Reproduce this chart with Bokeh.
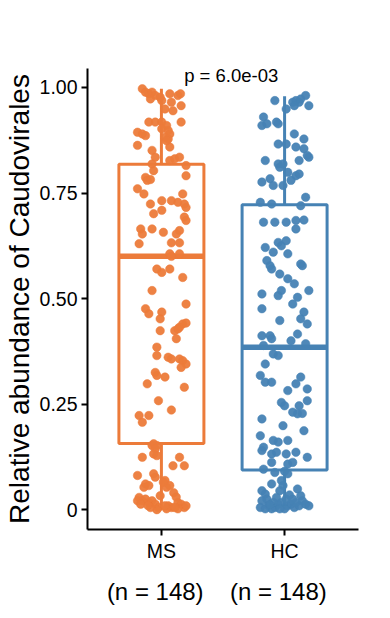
from bokeh.plotting import figure
from bokeh.models import Range1d, FixedTicker, Label, ColumnDataSource, LinearAxis
from bokeh.embed import file_html
from bokeh.resources import INLINE

FONT = "Liberation Sans"
groups = ["MS", "HC"]
n_labels = ["(n = 148)", "(n = 148)"]
colors = ["#EC7B3A", "#4682B4"]
p_label = "p = 6.0e-03"

# box statistics
q1 = [0.157, 0.094]
med = [0.600, 0.385]
q3 = [0.818, 0.722]
w_lo = [0.0, 0.0]
w_hi = [0.997, 0.979]

# jittered points (horizontal jitter offset, value)
ms_dx = [-0.155, -0.129, -0.102, -0.076, -0.05, -0.01, 0.068, 0.134, 0.155, -0.089,
         0.003, 0.081, 0.16, 0.029, 0.094, -0.102, -0.05, 0.003, 0.042, 0.16,
         0.003, 0.055, 0.068, -0.194, -0.155, -0.129, 0.029, 0.055, -0.194, -0.076,
         0.068, 0.042, -0.05, 0.068, 0.108, 0.147, -0.076, -0.063, 0.2, -0.129,
         -0.115, -0.089, 0.2, -0.194, -0.142, 0.173, -0.089, 0.003, 0.081, 0.134,
         0.186, 0.2, -0.063, 0.003, 0.186, 0.2, -0.168, -0.155, -0.076, 0.016,
         0.147, 0.121, -0.181, 0.081, 0.147, 0.068, 0.081, 0.147, -0.037, 0.003,
         0.068, 0.173, -0.076, -0.129, -0.102, 0.003, 0.2, -0.01, 0.173, 0.147,
         0.2, -0.01, 0.108, 0.134, 0.121, -0.037, -0.037, 0.055, 0.081, 0.147,
         0.173, 0.2, 0.16, -0.05, -0.037, 0.029, -0.115, 0.186, -0.024, 0.081,
         -0.181, -0.155, -0.102, -0.063, -0.037, -0.076, -0.05, -0.063, -0.037, -0.155,
         0.147, 0.094, 0.186, -0.194, -0.063, -0.05, -0.129, -0.102, -0.142, 0.029,
         0.042, 0.068, -0.181, -0.155, -0.129, -0.102, -0.076, -0.05, -0.024, 0.055,
         0.081, 0.134, 0.16, 0.186, 0.2, 0.042, 0.134, -0.194, -0.037, 0.029,
         0.108, -0.168, -0.089, 0.016, -0.01, 0.1, -0.11, 0.12]
ms_y = [0.997, 0.989, 0.985, 0.989, 0.981, 0.977, 0.985, 0.981, 0.985, 0.973,
        0.969, 0.965, 0.957, 0.949, 0.945, 0.918, 0.918, 0.918, 0.910, 0.918,
        0.902, 0.898, 0.890, 0.894, 0.890, 0.886, 0.882, 0.878, 0.863, 0.851,
        0.859, 0.874, 0.835, 0.827, 0.831, 0.835, 0.819, 0.803, 0.815, 0.787,
        0.780, 0.782, 0.791, 0.760, 0.748, 0.748, 0.724, 0.732, 0.732, 0.728,
        0.724, 0.716, 0.701, 0.709, 0.693, 0.685, 0.665, 0.653, 0.665, 0.657,
        0.661, 0.653, 0.630, 0.632, 0.632, 0.606, 0.600, 0.606, 0.570, 0.562,
        0.570, 0.550, 0.519, 0.476, 0.464, 0.468, 0.487, 0.452, 0.440, 0.432,
        0.442, 0.424, 0.424, 0.428, 0.405, 0.385, 0.365, 0.361, 0.357, 0.357,
        0.353, 0.345, 0.337, 0.325, 0.318, 0.314, 0.298, 0.290, 0.258, 0.236,
        0.223, 0.207, 0.223, 0.156, 0.152, 0.152, 0.144, 0.132, 0.128, 0.124,
        0.124, 0.104, 0.104, 0.081, 0.085, 0.077, 0.061, 0.057, 0.053, 0.069,
        0.053, 0.057, 0.029, 0.021, 0.025, 0.017, 0.021, 0.013, 0.005, 0.009,
        0.005, 0.017, 0.013, 0.005, 0.009, 0.002, 0.002, 0.021, 0.000, 0.009,
        0.005, 0.013, 0.005, 0.065, 0.033, 0.040, 0.010, 0.030]

hc_dx = [-0.079, 0.013, 0.066, 0.092, 0.118, 0.171, 0.197, 0.079, 0.131, -0.171,
         -0.184, -0.144, -0.066, -0.052, 0.079, 0.157, -0.052, 0.013, 0.092, 0.157,
         0.184, 0.197, -0.157, -0.052, -0.039, -0.013, 0.118, 0.026, 0.092, 0.118,
         -0.184, -0.118, -0.092, -0.013, 0.052, 0.171, -0.197, -0.105, 0.131, -0.171,
         -0.079, 0.013, 0.092, 0.157, 0.092, -0.157, -0.052, -0.026, 0.013, -0.092,
         0.026, -0.144, -0.118, -0.105, 0.131, 0.144, -0.039, 0.026, 0.079, 0.197,
         -0.184, -0.052, -0.026, 0.105, 0.066, -0.184, 0.157, 0.131, 0.184, -0.039,
         -0.184, -0.118, -0.105, 0.105, 0.052, 0.171, -0.171, -0.092, -0.052, -0.157,
         -0.197, -0.157, -0.105, 0.131, 0.092, 0.026, 0.184, -0.026, 0.0, 0.184,
         0.118, 0.066, 0.105, 0.144, -0.184, -0.013, 0.157, -0.197, -0.092, -0.052,
         0.026, -0.171, -0.184, -0.105, -0.066, 0.013, 0.092, 0.184, -0.105, 0.026,
         0.066, -0.171, -0.079, 0.0, 0.026, -0.105, -0.026, -0.013, -0.184, -0.157,
         -0.039, 0.105, 0.131, -0.184, -0.131, -0.079, -0.052, -0.026, 0.026, 0.052,
         0.079, 0.118, 0.171, 0.197, -0.197, -0.105, 0.0, -0.144, -0.066, 0.013,
         0.092, 0.144, -0.092, 0.066, -0.157, -0.039, 0.04, -0.12]
hc_y = [0.969, 0.949, 0.965, 0.969, 0.965, 0.981, 0.957, 0.957, 0.973, 0.930,
        0.910, 0.914, 0.918, 0.914, 0.890, 0.878, 0.866, 0.866, 0.859, 0.855,
        0.839, 0.835, 0.827, 0.819, 0.811, 0.819, 0.827, 0.799, 0.791, 0.795,
        0.776, 0.784, 0.768, 0.768, 0.780, 0.740, 0.728, 0.724, 0.720, 0.681,
        0.681, 0.681, 0.685, 0.686, 0.665, 0.621, 0.633, 0.625, 0.637, 0.610,
        0.606, 0.590, 0.578, 0.570, 0.582, 0.578, 0.558, 0.547, 0.535, 0.519,
        0.511, 0.507, 0.519, 0.503, 0.487, 0.476, 0.468, 0.452, 0.440, 0.448,
        0.412, 0.412, 0.405, 0.416, 0.400, 0.393, 0.389, 0.369, 0.365, 0.345,
        0.318, 0.302, 0.302, 0.314, 0.298, 0.282, 0.286, 0.254, 0.246, 0.258,
        0.246, 0.231, 0.227, 0.228, 0.215, 0.199, 0.187, 0.175, 0.164, 0.160,
        0.164, 0.148, 0.140, 0.132, 0.136, 0.132, 0.136, 0.124, 0.112, 0.108,
        0.112, 0.096, 0.088, 0.091, 0.085, 0.061, 0.069, 0.057, 0.045, 0.037,
        0.045, 0.049, 0.033, 0.021, 0.009, 0.005, 0.013, 0.017, 0.009, 0.013,
        0.005, 0.009, 0.013, 0.009, 0.005, 0.002, 0.002, 0.025, 0.029, 0.025,
        0.017, 0.021, 0.017, 0.025, 0.002, 0.002, 0.035, 0.012]

p = figure(width=374, height=610, output_backend="svg", toolbar_location=None,
           x_range=Range1d(0.4, 2.6), y_range=Range1d(-0.047, 1.045),
           min_border_left=79, min_border_right=16, min_border_top=68, min_border_bottom=81)
p.grid.visible = False
p.outline_line_color = None
p.background_fill_color = "white"
p.border_fill_color = "white"

half = 0.345
for i, g in enumerate(groups):
    xc = i + 1
    c = colors[i]
    p.segment(x0=[xc, xc], y0=[w_lo[i], q3[i]], x1=[xc, xc], y1=[q1[i], w_hi[i]],
              line_color=c, line_width=3)
    p.quad(left=[xc - half], right=[xc + half], bottom=[q1[i]], top=[q3[i]],
           fill_color="white", line_color=c, line_width=3)
    p.segment(x0=[xc - half], y0=[med[i]], x1=[xc + half], y1=[med[i]],
              line_color=c, line_width=5.5)

for i, (dx, ys) in enumerate([(ms_dx, ms_y), (hc_dx, hc_y)]):
    n = min(len(dx), len(ys))
    src = ColumnDataSource(dict(x=[i + 1 + d for d in dx[:n]], y=ys[:n]))
    p.scatter("x", "y", source=src, size=8.5, fill_color=colors[i], line_color=colors[i],
              line_width=0.5, fill_alpha=0.95)

# axes
for ax in (p.xaxis[0], p.yaxis[0]):
    ax.axis_line_color = "black"
    ax.axis_line_width = 2
    ax.major_tick_line_color = "black"
    ax.major_tick_line_width = 2
    ax.major_tick_out = 6
    ax.major_tick_in = 0
    ax.minor_tick_line_color = None
    ax.major_label_text_font = FONT
    ax.major_label_text_color = "black"
    ax.major_label_text_font_size = "19.5px"

p.xaxis.ticker = FixedTicker(ticks=[1, 2])
p.xaxis.major_label_overrides = {1: groups[0], 2: groups[1]}
p.xaxis.major_label_standoff = 4

p.yaxis.ticker = FixedTicker(ticks=[0, 0.25, 0.5, 0.75, 1.0])
p.yaxis.major_label_overrides = {0: "0", 0.25: "0.25", 0.5: "0.50", 0.75: "0.75", 1: "1.00"}
p.yaxis.major_label_standoff = 4
p.yaxis.axis_label = "Relative abundance of Caudovirales"
p.yaxis.axis_label_text_font = FONT
p.yaxis.axis_label_text_font_style = "normal"
p.yaxis.axis_label_text_font_size = "28px"
p.yaxis.axis_label_standoff = 2
p.yaxis.axis_label_text_color = "black"

# second row of x labels: group sizes
n_pos = [i + 1 - 0.05 for i in range(len(groups))]
n_axis = LinearAxis(ticker=FixedTicker(ticks=n_pos),
                    major_label_overrides={n_pos[0]: n_labels[0], n_pos[1]: n_labels[1]},
                    axis_line_color=None, major_tick_line_color=None, minor_tick_line_color=None,
                    major_tick_out=0, major_tick_in=0, major_label_standoff=13,
                    major_label_text_font=FONT, major_label_text_font_size="24px",
                    major_label_text_color="black")
p.add_layout(n_axis, "below")

p.add_layout(Label(x=1.567, y=1.028, text=p_label, text_align="center", text_baseline="middle",
                   text_font=FONT, text_font_size="18.5px", text_color="black"))

open("out.html", "w").write(file_html(p, INLINE))
